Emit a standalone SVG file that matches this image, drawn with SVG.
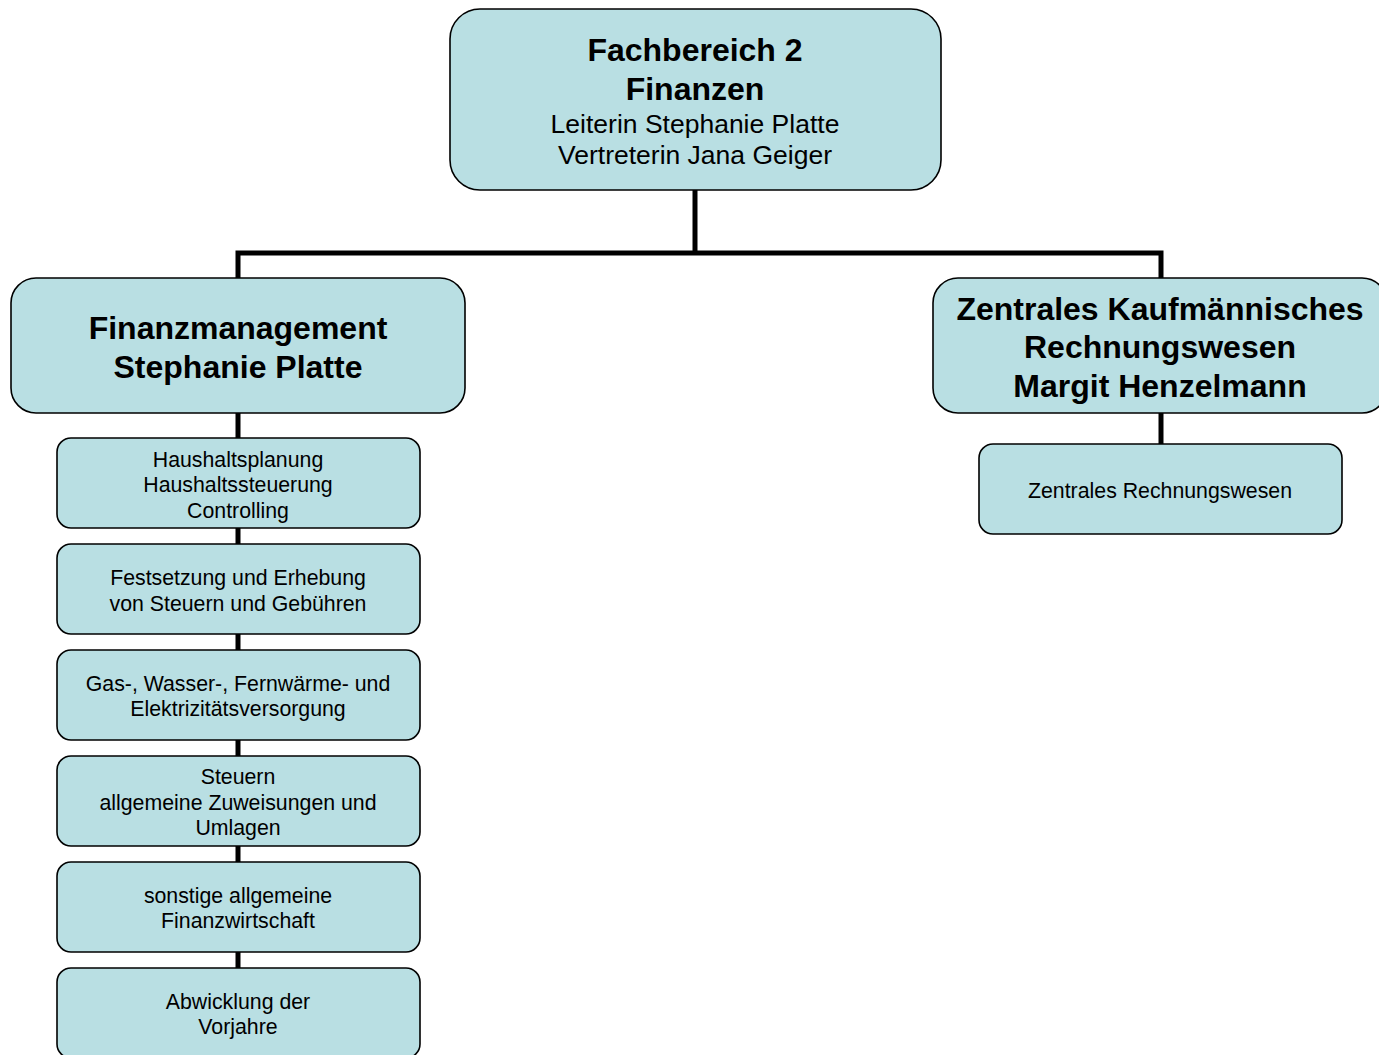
<svg xmlns="http://www.w3.org/2000/svg" width="1379" height="1055" viewBox="0 0 1379 1055">
<style>
.box{fill:#B9DFE3;stroke:#000;stroke-width:1.6}
.t{font-family:"Liberation Sans",Arial,sans-serif;text-anchor:middle;fill:#000}
.b32{font-size:32px;font-weight:bold}
.r26{font-size:26.5px}
.r21{font-size:21.3px}
.con{stroke:#000;stroke-width:5;fill:none}
</style>
<rect width="1379" height="1055" fill="#fff"/>
<g id="connectors">
<polyline class="con" points="695,190 695,253"/>
<polyline class="con" points="238,278 238,253 1161,253 1161,278"/>
<line class="con" x1="238" y1="413" x2="238" y2="968"/>
<line class="con" x1="1161" y1="413" x2="1161" y2="444"/>
</g>
<g id="n-top">
<rect class="box" x="450" y="9" width="491" height="181" rx="30"/>
<text class="t b32" x="695" y="61">Fachbereich 2</text>
<text class="t b32" x="695" y="100">Finanzen</text>
<text class="t r26" x="695" y="133">Leiterin Stephanie Platte</text>
<text class="t r26" x="695" y="164">Vertreterin Jana Geiger</text>
</g>
<g id="n-fm">
<rect class="box" x="11" y="278" width="454" height="135" rx="25"/>
<text class="t b32" x="238" y="339">Finanzmanagement</text>
<text class="t b32" x="238" y="378">Stephanie Platte</text>
</g>
<g id="n-zkr">
<rect class="box" x="933" y="278" width="454" height="135" rx="25"/>
<text class="t b32" x="1160" y="320">Zentrales Kaufmännisches</text>
<text class="t b32" x="1160" y="358">Rechnungswesen</text>
<text class="t b32" x="1160" y="397">Margit Henzelmann</text>
</g>
<g id="n-zr">
<rect class="box" x="979" y="444" width="363" height="90" rx="14"/>
<text class="t r21" x="1160" y="498">Zentrales Rechnungswesen</text>
</g>
<g id="n-c1">
<rect class="box" x="57" y="438" width="363" height="90" rx="14"/>
<text class="t r21" x="238" y="467">Haushaltsplanung</text>
<text class="t r21" x="238" y="492">Haushaltssteuerung</text>
<text class="t r21" x="238" y="518">Controlling</text>
</g>
<g id="n-c2">
<rect class="box" x="57" y="544" width="363" height="90" rx="14"/>
<text class="t r21" x="238" y="585">Festsetzung und Erhebung</text>
<text class="t r21" x="238" y="611">von Steuern und Gebühren</text>
</g>
<g id="n-c3">
<rect class="box" x="57" y="650" width="363" height="90" rx="14"/>
<text class="t r21" x="238" y="691">Gas-, Wasser-, Fernwärme- und</text>
<text class="t r21" x="238" y="716">Elektrizitätsversorgung</text>
</g>
<g id="n-c4">
<rect class="box" x="57" y="756" width="363" height="90" rx="14"/>
<text class="t r21" x="238" y="784">Steuern</text>
<text class="t r21" x="238" y="810">allgemeine Zuweisungen und</text>
<text class="t r21" x="238" y="835">Umlagen</text>
</g>
<g id="n-c5">
<rect class="box" x="57" y="862" width="363" height="90" rx="14"/>
<text class="t r21" x="238" y="903">sonstige allgemeine</text>
<text class="t r21" x="238" y="928">Finanzwirtschaft</text>
</g>
<g id="n-c6">
<rect class="box" x="57" y="968" width="363" height="90" rx="14"/>
<text class="t r21" x="238" y="1009">Abwicklung der</text>
<text class="t r21" x="238" y="1034">Vorjahre</text>
</g>
</svg>
